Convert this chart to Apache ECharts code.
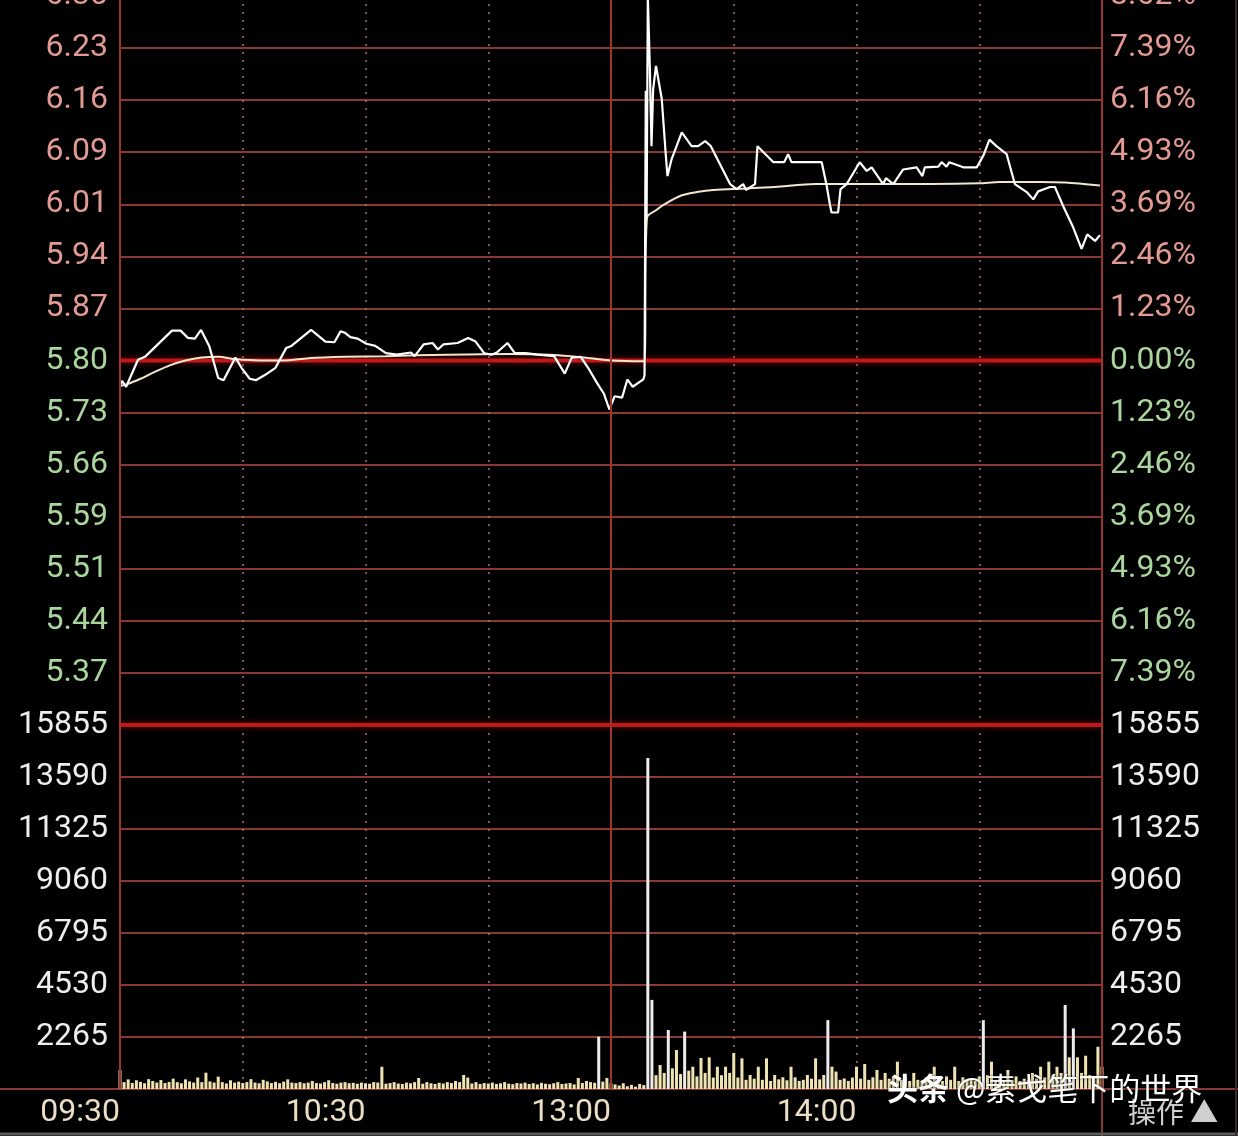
<!DOCTYPE html>
<html><head><meta charset="utf-8">
<script src="https://cdn.jsdelivr.net/npm/echarts@6/dist/echarts.min.js"></script>
<style>html,body{margin:0;padding:0;background:#000;}#c{width:1238px;height:1136px;}</style>
</head><body><div id="c"></div>
<script>
// ---- data ----
const prevClose = 5.80;
const limitPct = 8.62;
const volMax = 15855;

const priceLabels = ['', '5.37','5.44','5.51','5.59','5.66','5.73','5.80','5.87','5.94','6.01','6.09','6.16','6.23','6.30'];
const pctLabels = ['', '7.39%','6.16%','4.93%','3.69%','2.46%','1.23%','0.00%','1.23%','2.46%','3.69%','4.93%','6.16%','7.39%','8.62%'];
const volLabels = ['', '2265','4530','6795','9060','11325','13590','15855'];
const timeTickMinutes = [0, 60, 120, 180];
const timeTickLabels = ['09:30', '10:30', '13:00', '14:00'];

const lineMinutes = [0,0.5,1.5,4.4,6.1,12.7,14.8,16.6,18.3,19.8,21.8,24.0,25.3,28.2,29.7,31.7,33.2,35.4,38.0,40.6,41.9,46.7,50.2,52.4,53.9,55.0,56.3,58.1,60.2,62.4,65.0,67.7,71.1,72.0,74.2,76.4,77.7,79.0,82.5,85.1,86.9,89.0,90.8,92.1,94.7,96.5,99.1,102.1,106.1,108.7,110.4,112.6,114.4,116.5,118.3,119.6,120.9,122.7,124.0,125.3,127.9,128.2,128.5,128.7,129.0,129.5,129.9,130.3,131.0,132.4,133.4,133.8,134.8,137.3,139.7,141.3,143.0,144.4,149.1,150.7,152.3,153.0,155.2,155.8,159.7,162.3,163.3,164.1,171.5,172.7,173.5,173.9,175.5,176.1,177.6,180.8,182.5,183.7,186.5,187.2,189.0,191.4,194.7,196.1,196.7,200.0,200.8,202.0,202.7,206.1,209.4,211.0,212.5,214.2,216.7,218.7,221.6,223.2,224.4,227.3,228.5,230.5,233.0,235.0,236.4,238.3,239.5];
const linePrices = [5.766,5.772,5.764,5.801,5.805,5.841,5.841,5.831,5.830,5.842,5.820,5.776,5.773,5.804,5.790,5.775,5.773,5.780,5.790,5.817,5.820,5.842,5.826,5.825,5.840,5.838,5.832,5.830,5.823,5.820,5.810,5.808,5.811,5.806,5.822,5.824,5.815,5.822,5.824,5.831,5.826,5.810,5.808,5.811,5.824,5.810,5.810,5.808,5.806,5.782,5.804,5.805,5.790,5.770,5.754,5.733,5.751,5.749,5.774,5.764,5.774,5.780,6.170,5.996,6.300,6.200,6.094,6.172,6.204,6.159,6.081,6.053,6.076,6.113,6.094,6.094,6.101,6.094,6.042,6.035,6.042,6.034,6.042,6.094,6.072,6.072,6.083,6.072,6.072,6.040,6.014,6.003,6.003,6.035,6.042,6.072,6.060,6.065,6.042,6.050,6.042,6.062,6.065,6.053,6.065,6.066,6.072,6.066,6.072,6.065,6.065,6.081,6.103,6.094,6.083,6.042,6.031,6.021,6.032,6.038,6.038,6.012,5.982,5.953,5.973,5.964,5.972];

const avgMinutes = [0,2,5,8,12,16,20,24,28,34,40,46,55,65,80,95,105,110,115,120,128,128.8,131,133,137,141,145,153,160,170,182,198,210,215,225,231,239.5];
const avgPrices = [5.765,5.768,5.775,5.783,5.793,5.800,5.804,5.805,5.802,5.800,5.800,5.803,5.805,5.806,5.808,5.809,5.808,5.806,5.803,5.800,5.799,5.996,6.006,6.014,6.026,6.031,6.034,6.036,6.038,6.042,6.042,6.042,6.043,6.045,6.045,6.044,6.040];

const volMorning = [
  830,300,420,260,380,310,250,430,350,280,
  390,260,310,450,300,250,420,330,280,500,
  300,710,330,280,540,300,240,380,280,320,
  260,300,430,280,250,400,330,260,310,250,
  320,420,280,260,300,250,280,350,260,240,
  300,380,260,230,280,300,250,270,230,280,
  250,230,300,280,970,230,260,300,240,220,
  280,250,300,480,230,300,250,220,270,240,
  300,260,350,300,610,500,240,300,220,260,
  240,280,220,250,300,230,210,260,240,280,
  220,250,200,270,230,210,250,300,220,240,
  260,200,480,260,350,300,270,2280,320,480,
  250
];
const volAfternoon = [
  200,150,250,120,180,100,220,170,14420,3880,
  600,1045,700,2570,900,1700,650,2500,800,970,
  550,1350,700,1380,500,970,600,970,700,1570,
  500,1335,400,610,450,970,400,1335,350,610,
  420,510,380,970,510,350,400,610,450,1335,
  420,610,3000,970,760,400,460,350,500,970,
  450,1090,400,510,830,400,700,450,550,1190,
  400,500,350,700,400,300,510,400,970,450,
  350,550,400,970,350,510,400,450,350,550,
  3000,600,1190,400,510,350,830,400,550,350,
  450,400,700,450,970,500,1190,600,970,700,
  3660,1380,2640,1380,700,1450,610,500,1840,970
];

// ---- build ----
const volumes = volMorning.concat(volAfternoon);
const volData = volumes.map((v, i) => [i, v]);
const lineData = lineMinutes.map((m, i) => [m, linePrices[i]]);
const avgData = avgMinutes.map((m, i) => [m, avgPrices[i]]);
const priceMin = prevClose * (1 - limitPct / 100);
const priceMax = prevClose * (1 + limitPct / 100);

const FONT = 'Roboto';
const RED_TXT = '#e39a92';
const GREEN_TXT = '#a9d69c';
const GRID_RED = '#8a3834';
const DOT = '#a8766c';

const chart = echarts.init(document.getElementById('c'), null, {renderer: 'canvas'});
const rowColor = (v) => v > 7 ? RED_TXT : (v === 7 ? '#f4f4f4' : GREEN_TXT);

const option = {
  backgroundColor: '#000',
  animation: false,
  grid: [
    {left: 120, top: -4, width: 982, height: 729, show: false, outerBoundsMode: 'none', containLabel: false},
    {left: 120, top: 725, width: 982, height: 364, show: false, outerBoundsMode: 'none', containLabel: false}
  ],
  xAxis: [
    {gridIndex: 0, type: 'value', min: 0, max: 240, interval: 30,
     axisLine: {show: false}, axisTick: {show: false}, axisLabel: {show: false},
     splitLine: {show: true, lineStyle: {color: DOT, width: 1.5, type: [2, 6]}}},
    {gridIndex: 1, type: 'value', min: 0, max: 240, interval: 30,
     axisLine: {show: false}, axisTick: {show: false},
     axisLabel: {show: true, margin: 8, fontFamily: FONT, fontSize: 32, align: 'right',
       formatter: (v) => { const k = timeTickMinutes.indexOf(v); return k >= 0 ? timeTickLabels[k] : ''; },
       color: (v) => v === 0 ? '#d98a84' : '#eadfc4'},
     splitLine: {show: true, lineStyle: {color: DOT, width: 1.5, type: [2, 6]}}}
  ],
  yAxis: [
    {gridIndex: 0, type: 'value', min: 0, max: 14, interval: 1, position: 'left',
     axisLine: {show: false}, axisTick: {show: false},
     axisLabel: {margin: 12, fontFamily: FONT, fontSize: 32, showMaxLabel: true, showMinLabel: true,
       formatter: (v) => priceLabels[v] || '', color: rowColor},
     splitLine: {show: true, lineStyle: {color: GRID_RED, width: 2}}},
    {gridIndex: 0, type: 'value', min: 0, max: 14, interval: 1, position: 'right',
     axisLine: {show: false}, axisTick: {show: false},
     axisLabel: {margin: 8, fontFamily: FONT, fontSize: 32, showMaxLabel: true,
       formatter: (v) => pctLabels[v] || '', color: rowColor},
     splitLine: {show: false}},
    {gridIndex: 0, type: 'value', min: priceMin, max: priceMax, show: false, splitLine: {show: false}},
    {gridIndex: 1, type: 'value', min: 0, max: 7, interval: 1, position: 'left',
     axisLine: {show: false}, axisTick: {show: false},
     axisLabel: {margin: 12, fontFamily: FONT, fontSize: 32, showMaxLabel: true, color: '#eeeeee',
       formatter: (v) => volLabels[v] || ''},
     splitLine: {show: true, lineStyle: {color: GRID_RED, width: 2}}},
    {gridIndex: 1, type: 'value', min: 0, max: 7, interval: 1, position: 'right',
     axisLine: {show: false}, axisTick: {show: false},
     axisLabel: {margin: 8, fontFamily: FONT, fontSize: 32, showMaxLabel: true, color: '#eeeeee',
       formatter: (v) => volLabels[v] || ''},
     splitLine: {show: false}},
    {gridIndex: 1, type: 'value', min: 0, max: volMax, show: false, splitLine: {show: false}}
  ],
  series: [
    {name: 'zero', type: 'line', xAxisIndex: 0, yAxisIndex: 2, z: 1, silent: true, clip: false,
     data: [[0, prevClose], [240, prevClose]], showSymbol: false,
     lineStyle: {color: '#c01818', width: 4, shadowColor: 'rgba(200,20,20,0.6)', shadowBlur: 6},
     markLine: {silent: true, symbol: 'none', label: {show: false},
       lineStyle: {color: '#9c3530', width: 2, type: 'solid'},
       data: [{xAxis: 0}, {xAxis: 120}, {xAxis: 240}]}},
    {name: 'volTop', type: 'line', xAxisIndex: 1, yAxisIndex: 5, z: 1, silent: true, clip: false,
     data: [[0, volMax], [240, volMax]], showSymbol: false,
     lineStyle: {color: '#c01818', width: 4, shadowColor: 'rgba(200,20,20,0.6)', shadowBlur: 6},
     markLine: {silent: true, symbol: 'none', label: {show: false},
       lineStyle: {color: '#9c3530', width: 2, type: 'solid'},
       data: [{xAxis: 0}, {xAxis: 120}, {xAxis: 240}]}},
    {name: 'avg', type: 'line', xAxisIndex: 0, yAxisIndex: 2, z: 3, data: avgData, showSymbol: false,
     smooth: 0.3, lineStyle: {color: '#f3e6cc', width: 2}},
    {name: 'price', type: 'line', xAxisIndex: 0, yAxisIndex: 2, z: 4, data: lineData, showSymbol: false,
     lineStyle: {color: '#ffffff', width: 2.2}},
    {name: 'vol', type: 'bar', xAxisIndex: 1, yAxisIndex: 5, z: 3, data: volData, barWidth: 3,
     itemStyle: {color: (p) => p.value[1] >= 2000 ? '#ececec' : '#efe3b2'}}
  ],
  graphic: [
    {type: 'line', z: 0, shape: {x1: 0, y1: 1089, x2: 1238, y2: 1089}, style: {stroke: GRID_RED, lineWidth: 2}},
    {type: 'line', z: 0, shape: {x1: 1102, y1: 1089, x2: 1102, y2: 1136}, style: {stroke: GRID_RED, lineWidth: 2}},
    {type: 'line', z: 0, shape: {x1: 0, y1: 1134, x2: 1238, y2: 1134}, style: {stroke: '#5a5a5a', lineWidth: 3}},
    {type: 'line', z: 0, shape: {x1: 1236, y1: 0, x2: 1236, y2: 1136}, style: {stroke: '#3a2a2a', lineWidth: 2}},
    {type: 'text', z: 50, left: 1128, top: 1098,
     style: {text: '操作 ▲', fill: '#cfcfcf', fontSize: 28, fontFamily: 'Noto Sans CJK SC'}},
    {type: 'text', z: 100, left: 887, top: 1073,
     style: {text: '{b|头条} @素戈笔下的世界', fill: '#ffffff', fontSize: 31, fontFamily: 'Noto Sans CJK SC',
       textShadowColor: 'rgba(0,0,0,0.6)', textShadowBlur: 3,
       rich: {b: {fontWeight: 'bold', fontSize: 31, fill: '#ffffff', fontFamily: 'Noto Sans CJK SC'}}}}
  ]
};
chart.setOption(option);
</script>
</body></html>
